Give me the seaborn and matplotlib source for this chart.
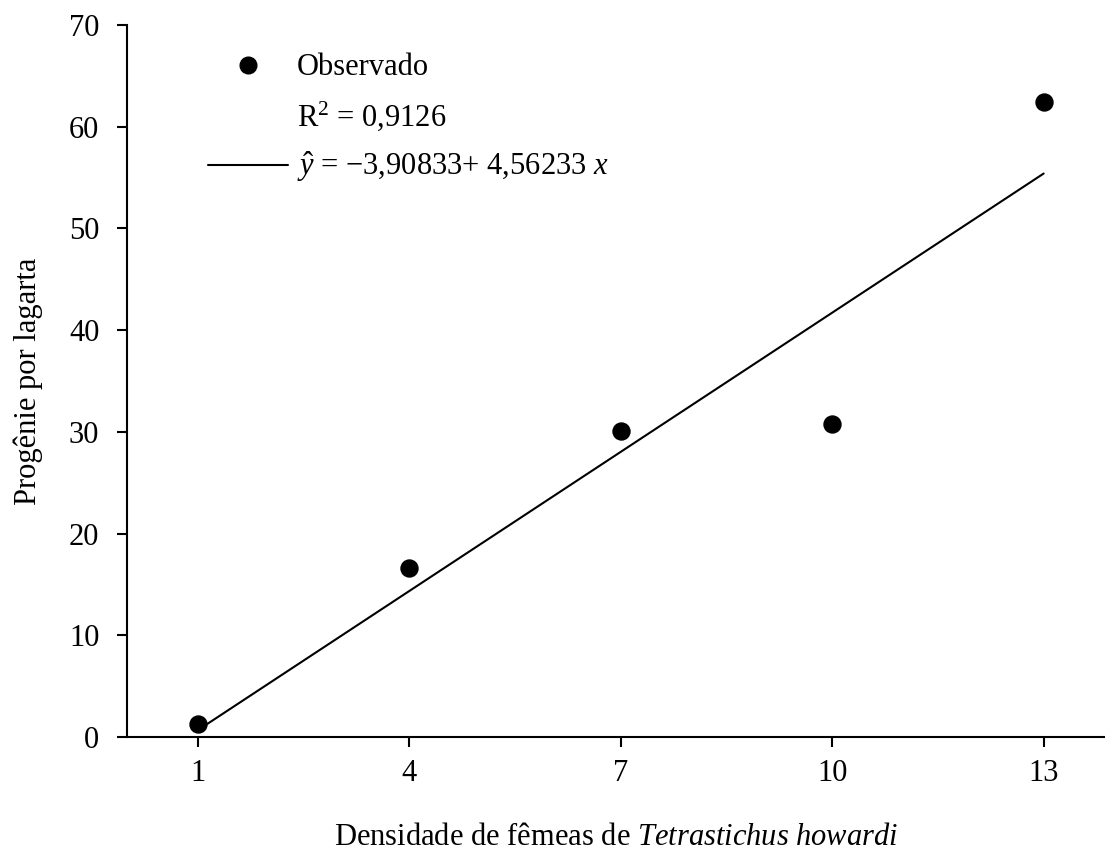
import matplotlib
matplotlib.use("Agg")
import matplotlib.pyplot as plt
from matplotlib.lines import Line2D
import numpy as np
import pandas as pd
import seaborn as sns

densidade = [1, 4, 7, 10, 13]
progenie = [1.25, 16.6, 30.1, 30.75, 62.47]

# fitted model reported on the chart
intercepto = -3.90833
inclinacao = 4.56233
r2_texto = "0,9126"

x_ticks = [1, 4, 7, 10, 13]
y_ticks = [0, 10, 20, 30, 40, 50, 60, 70]

sns.set_style("ticks")
plt.rcParams["font.family"] = ["Liberation Serif", "DejaVu Serif"]
plt.rcParams["mathtext.fontset"] = "custom"
plt.rcParams["mathtext.rm"] = "Liberation Serif"
plt.rcParams["mathtext.it"] = "Liberation Serif:italic"
plt.rcParams["font.size"] = 22
for k in ["text.color", "axes.labelcolor", "xtick.color", "ytick.color"]:
    plt.rcParams[k] = "black"

df = pd.DataFrame({"x": densidade, "y": progenie})
x_fit = np.array([densidade[0], densidade[-1]], dtype=float)
df_fit = pd.DataFrame({"x": x_fit, "y": intercepto + inclinacao * x_fit})

fig = plt.figure(figsize=(11.05, 8.64), dpi=100)
ax = fig.add_axes([0.115, 0.147, 0.885, 0.824])

sns.lineplot(data=df_fit, x="x", y="y", color="black", linewidth=1.5, ax=ax)
sns.scatterplot(data=df, x="x", y="y", color="black", s=150, edgecolor="black", ax=ax, zorder=3)

ax.set_xlim(0, 13.87)
ax.set_ylim(0, 70)
ax.set_xticks(x_ticks)
ax.set_yticks(y_ticks)
ax.tick_params(axis="both", direction="out", length=7, width=1.5, labelsize=22, colors="black")
ax.tick_params(axis="x", pad=9)
ax.tick_params(axis="y", pad=13)
sns.despine(ax=ax)
for sp in ["left", "bottom"]:
    ax.spines[sp].set_linewidth(1.5)
    ax.spines[sp].set_color("black")

ax.set_xlabel(r"Densidade de fêmeas de $\it{Tetrastichus\ howardi}$", fontsize=22, labelpad=25)
ax.set_ylabel("Progênie por lagarta", fontsize=22, labelpad=19)

handles = [
    Line2D([], [], marker="o", color="black", linestyle="none", markersize=12),
    Line2D([], [], color="none"),
    Line2D([], [], color="black", linewidth=1.5),
]
labels = [
    "Observado",
    r"R$^{2}$ = " + r2_texto,
    r"$\hat{y}$ = $-$3,90833+ 4,56233 $x$",
]
ax.legend(handles, labels, loc="upper left", bbox_to_anchor=(0.055, 0.999),
          frameon=False, handlelength=2.6, handletextpad=0.3,
          labelspacing=0.55, fontsize=22)

fig.savefig("out.png", dpi=100)
